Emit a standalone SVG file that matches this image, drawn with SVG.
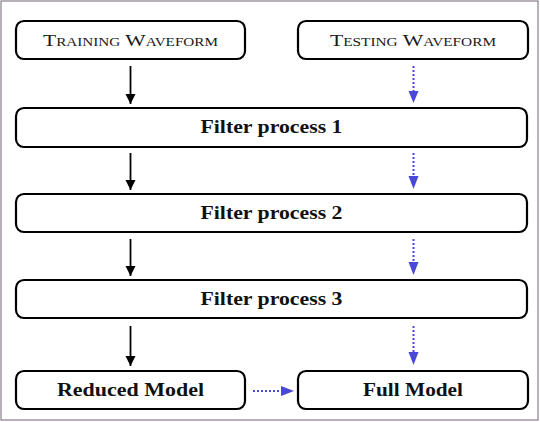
<svg xmlns="http://www.w3.org/2000/svg" width="540" height="422" viewBox="0 0 540 422">
<defs>
<style>
.box{fill:#fff;stroke:#000;stroke-width:2.2}
.sc{font-family:"Liberation Serif","DejaVu Serif",serif;font-variant:small-caps;font-size:17px;text-anchor:middle;fill:#1a1a1a}
.bd{font-family:"Liberation Serif","DejaVu Serif",serif;font-weight:bold;font-size:18px;text-anchor:middle;fill:#111}
.solid{stroke:#000;stroke-width:1.8;fill:none}
.dot{stroke:#4a48d6;stroke-width:2;stroke-dasharray:2 2;fill:none}
</style>
<marker id="ab" markerUnits="userSpaceOnUse" markerWidth="10" markerHeight="14" refX="10" refY="5" orient="auto">
<path d="M0,0 L10,5 L0,10 Z" fill="#000"/>
</marker>
</defs>
<rect x="0" y="0" width="540" height="422" fill="#fff"/>
<rect x="1" y="1" width="537" height="419" fill="none" stroke="#8a7d8c" stroke-width="1.2"/>
<g id="training"><rect class="box" x="16" y="21" width="229" height="38" rx="8"/><text class="sc" x="130.5" y="45.5" textLength="175" lengthAdjust="spacingAndGlyphs">Training Waveform</text></g>
<g id="testing"><rect class="box" x="298" y="21" width="230" height="38" rx="8"/><text class="sc" x="413" y="45.5" textLength="166" lengthAdjust="spacingAndGlyphs">Testing Waveform</text></g>
<g id="filter1"><rect class="box" x="16" y="108" width="511" height="39" rx="8"/><text class="bd" x="271.5" y="133.3" textLength="142" lengthAdjust="spacingAndGlyphs">Filter process 1</text></g>
<g id="filter2"><rect class="box" x="16" y="194" width="511" height="38" rx="8"/><text class="bd" x="271.5" y="219" textLength="142" lengthAdjust="spacingAndGlyphs">Filter process 2</text></g>
<g id="filter3"><rect class="box" x="16" y="280" width="511" height="38" rx="8"/><text class="bd" x="271.5" y="305" textLength="142" lengthAdjust="spacingAndGlyphs">Filter process 3</text></g>
<g id="reduced"><rect class="box" x="16" y="371" width="229" height="38" rx="8"/><text class="bd" x="130.5" y="396" textLength="147" lengthAdjust="spacingAndGlyphs">Reduced Model</text></g>
<g id="full"><rect class="box" x="298" y="371" width="230" height="38" rx="8"/><text class="bd" x="413" y="396" textLength="100" lengthAdjust="spacingAndGlyphs">Full Model</text></g>
<g id="connectors">
<path class="solid" d="M130.5,66 V104" marker-end="url(#ab)"/>
<path class="solid" d="M130.5,153 V190" marker-end="url(#ab)"/>
<path class="solid" d="M130.5,239 V276" marker-end="url(#ab)"/>
<path class="solid" d="M130.5,326 V366" marker-end="url(#ab)"/>
<path class="dot" d="M413.5,66 V92"/><path d="M408.5,91 L418.5,91 L413.5,103 Z" fill="#4a48d6"/>
<path class="dot" d="M413.5,153 V177"/><path d="M408.5,176 L418.5,176 L413.5,189 Z" fill="#4a48d6"/>
<path class="dot" d="M413.5,239 V263"/><path d="M408.5,262 L418.5,262 L413.5,275 Z" fill="#4a48d6"/>
<path class="dot" d="M413.5,326 V353"/><path d="M408.5,352 L418.5,352 L413.5,365 Z" fill="#4a48d6"/>
<path class="dot" d="M253,391 H282"/><path d="M281,386 L281,396 L294,391 Z" fill="#4a48d6"/>
</g>
</svg>
